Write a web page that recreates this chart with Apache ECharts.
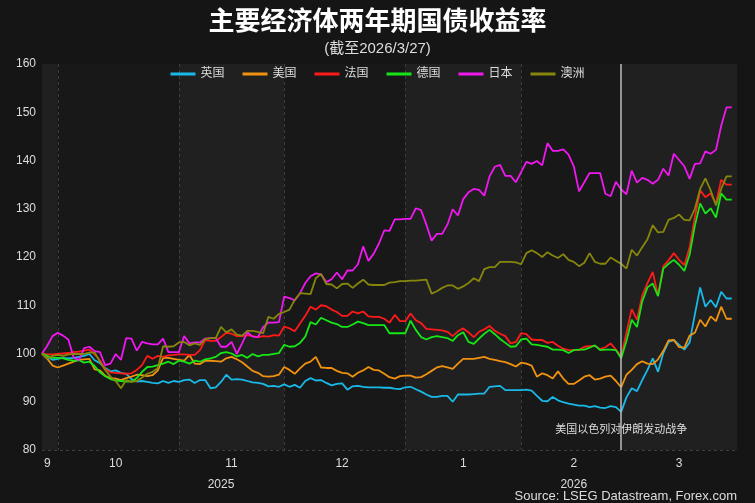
<!DOCTYPE html>
<html>
<head>
<meta charset="utf-8">
<script src="https://cdn.jsdelivr.net/npm/echarts@6/dist/echarts.min.js"></script>
<style>
  html, body { margin: 0; background: #151515; }
  #chart { width: 755px; height: 503px; }
</style>
</head>
<body>
<div id="chart"></div>
<script>
// 交易日（2025/9/26 - 2026/3/31），横轴按交易日等距
const dates = []
for (let d = new Date(Date.UTC(2025, 8, 26)); d <= Date.UTC(2026, 2, 31); d.setUTCDate(d.getUTCDate() + 1)) {
  const w = d.getUTCDay()
  if (w !== 0 && w !== 6) dates.push(d.toISOString().slice(0, 10))
}

// 月份刻度（下标）
const monthLineIdx = [3, 26, 46, 69, 91]
const bandEdgeIdx = [0, 3, 26, 46, 69, 91, 110, 132]
const monthLabelIdx = [1, 14, 36, 57, 80, 101, 121]
const monthLabels = ['9', '10', '11', '12', '1', '2', '3']
const yearLabelIdx = [34, 101]
const yearLabels = ['2025', '2026']

const eventDate = '2026-02-27'
const eventText = '美国以色列对伊朗发动战争'

const seriesNames = ['英国', '美国', '法国', '德国', '日本', '澳洲']
const seriesColors = ['#19b9e8', '#f0920f', '#ff1a1a', '#16e616', '#f018f0', '#86860c']

const uk = [
  100, 99.3, 98.7, 98.9, 99.1, 99, 99.1, 99.3, 99.5, 99.9,
  98.6, 98, 97, 96.3, 96.5, 96, 95.8, 94.7, 94.2, 94.3,
  94.1, 93.9, 93.8, 94.3, 93.9, 94.3, 94.1, 94.5, 94.6, 93.9,
  94.5, 94.5, 92.8, 93, 94.1, 95.6, 94.6, 94.7, 94.6, 94.3,
  94, 93.9, 93.7, 93.2, 93.3, 93.1, 93.6, 93.1, 93.5, 92.9,
  94.3, 94.9, 94.4, 94.5, 93.9, 93.4, 93.7, 93.8, 92.5, 93.2,
  93.3, 93.1, 93, 93, 93, 92.9, 92.9, 92.7, 92.6, 93,
  93.1, 92.6, 92.1, 91.5, 91, 91, 91.2, 91.2, 90, 91.5,
  91.5, 91.5, 91.6, 91.7, 91.7, 93.1, 93.2, 93.3, 92.4, 92.4,
  92.4, 92.4, 92.5, 92.3, 91.2, 90.2, 90.1, 91, 90.3, 89.9,
  89.6, 89.4, 89.2, 89.2, 88.9, 89.1, 88.8, 88.7, 89.1, 88.9,
  87.9, 90.9, 92.8, 92.2, 94.5, 96.6, 99, 96.2, 100.1, 102.4,
  102.8, 101.8, 100.8, 102.3, 108.1, 113.7, 109.7, 111.1, 109.6, 112.8,
  111.4, 111.4
]
const us = [
  100, 98.9, 97.5, 97.1, 97.5, 97.9, 98.3, 98.7, 98.8, 98.9,
  96.7, 96.5, 95.4, 94.9, 94.8, 94.5, 94.9, 95.2, 95.6, 95.5,
  95.3, 95.5, 96.5, 99.1, 99.1, 98.9, 98.7, 98.5, 99.7, 97.9,
  97.8, 98.5, 98.5, 98.4, 98.3, 99, 99.3, 98.8, 98.2, 97.3,
  96.4, 96, 95.3, 95.2, 95.3, 95.6, 97.2, 96.6, 95.8, 96.9,
  97.9, 98.3, 99.3, 97.1, 97, 97, 96.4, 96, 95.9, 95.2,
  96, 96.5, 97.2, 96.6, 96.5, 95.8, 95.1, 94.8, 95.3, 95.4,
  95.4, 95, 95.1, 95.7, 96.4, 97.1, 97.4, 97.1, 96.8, 97.9,
  98.9, 98.9, 98.9, 99.1, 99.3, 98.9, 98.7, 98.4, 98.2, 97.8,
  97.3, 98.1, 97.9, 97.5, 95.2, 95.9, 95.5, 94.8, 96.3, 94.8,
  93.7, 93.7, 94.4, 95.2, 95.5, 94.6, 94.8, 95.2, 95.4, 94.3,
  93, 95.6, 96.6, 97.8, 98.4, 97.9, 97.8, 98.8, 100.5, 102.7,
  102.8, 101.3, 101.2, 103.7, 104.3, 107, 105.6, 107.7, 106.7, 109.7,
  107.2, 107.2
]
const fr = [
  100, 99.8, 99.8, 99.9, 100, 100.1, 100.3, 100.4, 100.6, 100.8,
  99.8, 98.6, 96.8, 96.1, 96, 95.9, 95.8, 95.9, 96.6, 97.6,
  99.5, 98.9, 99.5, 99.3, 99.6, 99.7, 99.8, 99.8, 99.7, 99.7,
  100.7, 102.8, 102.6, 102.6, 103.4, 104.3, 104.1, 103.6, 103.6, 103.8,
  103.6, 103.4, 103.6, 103.5, 103.8, 103.7, 105.6, 105.2, 104.6, 106.2,
  107.8, 109.7, 109.1, 110, 109.8, 109.1, 108.6, 107.8, 107.8, 108.7,
  108.3, 108.7, 107.7, 107.6, 107.6, 107.2, 106.4, 108, 106.7, 106.7,
  108.3, 106.9, 106.3, 105.1, 105, 104.9, 104.8, 104.5, 103.6, 104.6,
  105.2, 104.4, 103.4, 104.5, 105, 105.7, 104.7, 104.1, 103.6, 102.1,
  102.4, 104.2, 104, 102.9, 102.8, 102.8, 102.2, 102.4, 101.6, 101,
  100.7, 100.7, 100.7, 101.4, 101.5, 101.6, 100.9, 101.3, 102.1, 100.8,
  99.4, 104.3, 109.2, 107, 112, 114.6, 116.9, 112, 118.1, 119.3,
  120.8, 119.4, 118.3, 122, 128.3, 133.8, 132.4, 133.2, 131, 136,
  135, 135
]
const de = [
  100, 99.5, 99.1, 99.1, 99, 98.7, 98.5, 98.6, 98.1, 98.3,
  97.4, 96.1, 95.3, 94.7, 94.4, 94.3, 94.2, 94.2, 94.9, 96.2,
  97.2, 97.3, 97.6, 97.9, 98.3, 97.8, 98.5, 98.3, 97.9, 98.5,
  98.3, 98.8, 99, 99.3, 100.1, 100.3, 100, 99.4, 99.7, 99.1,
  99.9, 99.4, 99.7, 99.7, 99.9, 100.1, 101.8, 101.4, 101.5, 102.2,
  103.5, 106.5, 106, 107.4, 106.9, 106.4, 106.1, 105.5, 105.5, 106,
  106.6, 106.3, 105.9, 105.9, 105.9, 105.9, 104.2, 104.2, 104.2, 104.2,
  106.8, 104.9, 103.4, 102.9, 103.4, 103.6, 103.4, 103.2, 102.6, 103.8,
  104.4, 102.4, 102, 103.1, 104.1, 104.9, 104, 103, 102.2, 101.4,
  101.5, 102.9, 103.1, 101.9, 101.8, 101.6, 101.4, 100.8, 100.8, 100.7,
  100.1, 100.7, 100.8, 100.8, 101.2, 101.7, 100.7, 100.8, 100.8, 100.7,
  99, 102.6, 107, 105.5, 110.8, 113.7, 114.5, 111.9, 117.6, 118.6,
  119.4, 118.4, 117.1, 120.5, 126.5, 131.1, 129, 130.1, 128.2, 133.2,
  131.9, 131.9
]
const jp = [
  100, 101.6, 103.6, 104.3, 103.7, 102.9, 99.2, 98.6, 101.1, 101.4,
  100.5, 100.3, 97.6, 97.9, 99.9, 98.7, 103.2, 103.1, 100.6, 102.4,
  102.1, 101.9, 101.9, 103.1, 100.3, 100.3, 100.3, 103.6, 102.1, 102.3,
  102.3, 103.1, 103.2, 103.2, 101.4, 101.4, 102.4, 99.9, 102.1, 104.4,
  103.5, 103.4, 105.5, 106.4, 106.4, 106.5, 111.8, 111.5, 111, 112.5,
  114.6, 116, 116.6, 116.4, 114.8, 115.4, 116.8, 115.4, 117.2, 117.2,
  118.5, 122.2, 119.2, 120.7, 122.8, 125.5, 125.4, 127.8, 127.8, 127.9,
  127.9, 130.1, 129.7, 126.7, 123.4, 124.8, 124.8, 126.7, 129.9, 128.6,
  132, 133.4, 134.1, 133.9, 132.7, 136.7, 138.7, 139.1, 136.8, 136.8,
  135.5, 137.6, 139.7, 139.3, 139.9, 139, 143.6, 142, 142, 142.3,
  141.2, 138.8, 133.6, 135.5, 137.4, 137.4, 137.4, 133.1, 132.6, 135.6,
  134, 133, 137.9, 135.4, 136.4, 136, 135.2, 136, 138.3, 136.9,
  141.4, 140.1, 138.8, 136.2, 139.3, 139.4, 141.9, 141.4, 142.2, 147.2,
  151, 151
]
const au = [
  100, 99, 99.5, 99.7, 99.5, 99.8, 99.9, 99.9, 99.9, 100.2,
  100.2, 98.3, 96.6, 95.2, 94.3, 92.8, 94.5, 94.1, 94.3, 95,
  95.8, 96.2, 97, 101.5, 101.4, 101.5, 102.3, 102.4, 101.7, 102.1,
  101.8, 103, 103.2, 103.2, 105.5, 104.4, 105, 103.9, 103.7, 104.7,
  104.7, 104.5, 104.2, 107.6, 107.2, 108.2, 108.6, 109.1, 111.1, 112.5,
  112.4, 112.3, 115.6, 116.5, 114.4, 114.3, 113.5, 114.4, 114.5, 113.6,
  114.5, 115.3, 114.3, 114.2, 114.2, 114.2, 114.7, 114.8, 115, 115,
  115.1, 115.1, 115.2, 115.3, 112.4, 112.9, 113.6, 114.1, 114.1, 113.4,
  113.9, 114.6, 115.6, 115, 117.5, 117.9, 117.9, 119, 119, 119,
  118.9, 118.5, 120.8, 121.4, 120.8, 120, 121, 120.3, 119.8, 120.6,
  119.4, 119, 118.1, 118.8, 120.8, 119, 118.6, 118.6, 119.9, 119.2,
  118.6, 117.6, 121.5, 120.3, 122, 123.7, 126.6, 125.1, 125.2, 127.7,
  128.1, 128.8, 127.7, 127.6, 130, 134.1, 136.3, 133.8, 130.7, 134.1,
  136.7, 136.7
]
const seriesData = [uk, us, fr, de, jp, au]

const font = '"Liberation Sans", Arial, "Noto Sans CJK SC", sans-serif'

const chart = echarts.init(document.getElementById('chart'), null, { renderer: 'canvas' })

const series = seriesNames.map((name, k) => ({
  name: name,
  type: 'line',
  data: seriesData[k],
  symbol: 'none',
  showSymbol: false,
  lineStyle: { color: seriesColors[k], width: 1.8 },
  itemStyle: { color: seriesColors[k] }
}))

// 事件竖线和文字挂在第一个系列上
series[0].markLine = {
  silent: true,
  symbol: ['none', 'none'],
  label: { show: false },
  lineStyle: { color: '#bdbdbd', width: 1.5, type: 'solid' },
  data: [{ xAxis: eventDate }]
}
series[0].markPoint = {
  silent: true,
  symbol: 'rect',
  symbolSize: 1,
  itemStyle: { color: 'rgba(0,0,0,0)' },
  label: {
    show: true,
    position: 'inside',
    formatter: eventText,
    color: '#dddddd',
    fontSize: 11,
    fontFamily: font
  },
  data: [{ coord: [eventDate, 84.1] }]
}

const option = {
  backgroundColor: '#151515',
  animation: false,
  textStyle: { fontFamily: font },
  title: [
    {
      text: '主要经济体两年期国债收益率',
      subtext: '(截至2026/3/27)',
      left: 'center',
      top: 5,
      itemGap: 5,
      textStyle: { color: '#ffffff', fontSize: 26, fontWeight: 'bold', fontFamily: font },
      subtextStyle: { color: '#dddddd', fontSize: 15, fontFamily: font }
    },
    {
      text: 'Source: LSEG Datastream, Forex.com',
      right: 13,
      top: 485,
      textStyle: { color: '#dddddd', fontSize: 13, fontWeight: 'normal', fontFamily: font }
    }
  ],
  legend: {
    top: 63,
    left: 'center',
    icon: 'rect',
    itemWidth: 25,
    itemHeight: 3,
    itemGap: 18,
    textStyle: { color: '#dddddd', fontSize: 12, fontFamily: font },
    data: seriesNames
  },
  grid: {
    left: 42,
    right: 18,
    top: 64,
    bottom: 53,
    show: true,
    backgroundColor: '#1b1b1b',
    borderWidth: 0
  },
  xAxis: [
    {
      type: 'category',
      data: dates,
      boundaryGap: false,
      axisLine: { show: false },
      axisTick: { show: false },
      axisLabel: {
        color: '#dddddd',
        fontSize: 12,
        margin: 8,
        interval: (i) => monthLabelIdx.includes(i),
        formatter: (v, i) => monthLabels[monthLabelIdx.indexOf(i)]
      },
      splitLine: {
        show: true,
        interval: (i) => monthLineIdx.includes(i),
        lineStyle: { color: '#3d3d3d', type: [3, 3] }
      },
      splitArea: {
        show: true,
        interval: (i) => bandEdgeIdx.includes(i),
        areaStyle: { color: ['#202020', '#181818'] }
      }
    },
    {
      type: 'category',
      data: dates,
      boundaryGap: false,
      position: 'bottom',
      offset: 21,
      axisLine: { show: false },
      axisTick: { show: false },
      splitLine: { show: false },
      axisLabel: {
        color: '#dddddd',
        fontSize: 12,
        margin: 8,
        interval: (i) => yearLabelIdx.includes(i),
        formatter: (v, i) => yearLabels[yearLabelIdx.indexOf(i)]
      }
    }
  ],
  yAxis: {
    type: 'value',
    min: 80,
    max: 160,
    interval: 10,
    axisLine: { show: false },
    axisTick: { show: false },
    axisLabel: { color: '#dddddd', fontSize: 12, margin: 6 },
    splitLine: { show: true, lineStyle: { color: '#3d3d3d', type: [3, 3] } }
  },
  series: series
}

chart.setOption(option)
</script>
</body>
</html>
